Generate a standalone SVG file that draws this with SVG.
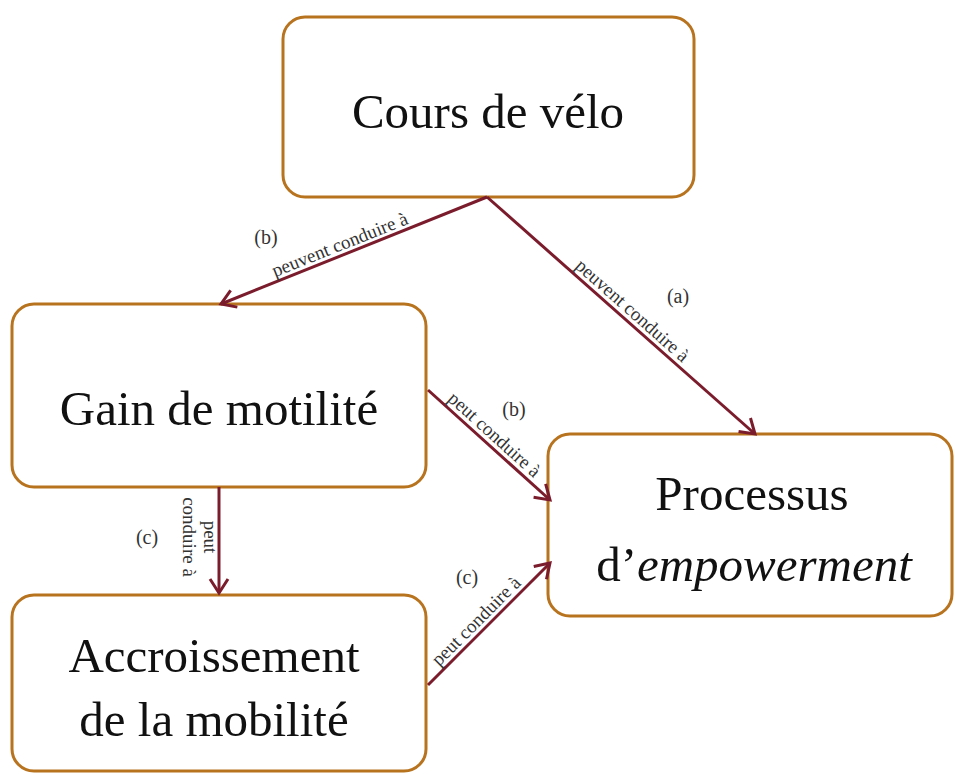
<svg xmlns="http://www.w3.org/2000/svg" width="955" height="774" viewBox="0 0 955 774">
<style>
.box{fill:#ffffff;stroke:#b8731f;stroke-width:3}
.title{font-family:"Liberation Serif",serif;font-size:49px;fill:#111;text-anchor:middle}
.conn{stroke:#7b1c2c;stroke-width:3;fill:none;marker-end:url(#arr)}
.lbl{font-family:"Liberation Serif",serif;font-size:19px;fill:#333;text-anchor:middle}
.tag{font-family:"Liberation Serif",serif;font-size:20px;fill:#333;text-anchor:middle}
</style>
<defs>
<marker id="arr" markerUnits="userSpaceOnUse" markerWidth="20" markerHeight="24" refX="16" refY="10" orient="auto" viewBox="0 0 20 20">
<path d="M2,1 L16,10 L2,19" fill="none" stroke="#7b1c2c" stroke-width="3"/>
</marker>
</defs>
<rect width="955" height="774" fill="#ffffff"/>
<g id="node-cours">
<rect class="box" x="283" y="17" width="411" height="180" rx="22"/>
<text class="title" x="488" y="128">Cours de vélo</text>
</g>
<g id="node-gain">
<rect class="box" x="12" y="304" width="414" height="183" rx="22"/>
<text class="title" x="219" y="425">Gain de motilité</text>
</g>
<g id="node-processus">
<rect class="box" x="548" y="434" width="404" height="182" rx="22"/>
<text class="title" x="752" y="510">Processus</text>
<text class="title" x="754" y="581">d’<tspan font-style="italic">empowerment</tspan></text>
</g>
<g id="node-accroissement">
<rect class="box" x="12" y="595" width="414" height="176" rx="22"/>
<text class="title" x="214" y="672">Accroissement</text>
<text class="title" x="214" y="736">de la mobilité</text>
</g>
<g id="connectors">
<line class="conn" x1="487" y1="197" x2="221" y2="304"/>
<line class="conn" x1="487" y1="197" x2="755" y2="434"/>
<line class="conn" x1="428" y1="390" x2="550" y2="500"/>
<line class="conn" x1="219" y1="487" x2="219" y2="593"/>
<line class="conn" x1="428" y1="685" x2="550" y2="563"/>
<text class="lbl" transform="translate(344,255) rotate(-21.8)" y="-5">peuvent conduire à</text>
<text class="lbl" transform="translate(625,319) rotate(41.5)" y="-5">peuvent conduire à</text>
<text class="lbl" transform="translate(487,443) rotate(42)" y="-5">peut conduire à</text>
<text class="lbl" transform="translate(484,629) rotate(-45)" y="-5">peut conduire à</text>
<text class="lbl" transform="translate(204,537) rotate(90)" y="0">peut</text>
<text class="lbl" transform="translate(204,537) rotate(90)" y="21">conduire à</text>
<text class="tag" x="266" y="244">(b)</text>
<text class="tag" x="678" y="303">(a)</text>
<text class="tag" x="514" y="416">(b)</text>
<text class="tag" x="147" y="544">(c)</text>
<text class="tag" x="467" y="584">(c)</text>
</g>
</svg>
